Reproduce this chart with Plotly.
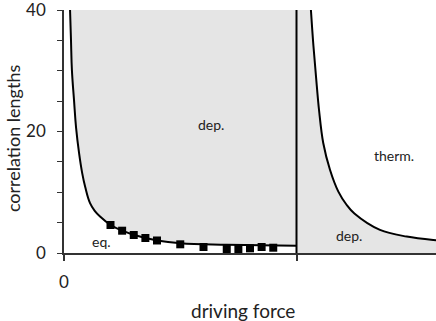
import plotly.graph_objects as go

# Left curve (equilibrium/depinning boundary)
left_x = [0.026, 0.030, 0.034, 0.043, 0.052, 0.065, 0.078, 0.091, 0.112, 0.133, 0.155, 0.201,
          0.251, 0.302, 0.401, 0.501, 0.70, 0.845, 1.0]
left_y = [40, 35.1, 30.1, 25.2, 20.6, 16.4, 13.2, 10.9, 8.2, 6.9, 6.0, 4.6,
          3.67, 2.96, 2.06, 1.6, 1.37, 1.27, 1.2]

# Right curve (depinning/thermal boundary)
right_x = [1.062, 1.072, 1.084, 1.097, 1.115, 1.144, 1.180, 1.216, 1.249,
           1.359, 1.474, 1.588, 1.603]
right_y = [40, 34.5, 29.0, 23.5, 18.1, 13.7, 10.1, 7.9, 6.5,
           3.8, 2.7, 2.14, 2.1]

# Measured points (square markers)
marker_x = [0.2, 0.25, 0.3, 0.35, 0.4, 0.5, 0.6, 0.7, 0.75, 0.8, 0.85, 0.9]
marker_y = [4.61, 3.67, 2.96, 2.47, 2.06, 1.43, 0.99, 0.66, 0.66, 0.77, 0.99, 0.87]

# Threshold force
threshold_x = [1.0, 1.0]
threshold_y = [0, 40]

y_tickvals = [0, 5, 10, 15, 20, 25, 30, 35, 40]
y_ticktext = ["0", "", "", "", "20", "", "", "", "40"]
x_tickvals = [0, 1]
x_ticktext = ["0", ""]

FILL = "#e5e5e5"
FONT = "Lato"
TXT = "#222"

fig = go.Figure()

# left shaded region (above left curve, up to threshold)
fig.add_trace(go.Scatter(
    x=left_x + [1.0, left_x[0]],
    y=left_y + [40, 40],
    fill="toself", fillcolor=FILL, mode="lines",
    line=dict(width=0, color=FILL), hoverinfo="skip", showlegend=False))

# right shaded region (under right curve)
fig.add_trace(go.Scatter(
    x=[1.0] + right_x + [right_x[-1], 1.0],
    y=[40] + right_y + [0, 0],
    fill="toself", fillcolor=FILL, mode="lines",
    line=dict(width=0, color=FILL), hoverinfo="skip", showlegend=False))

fig.add_trace(go.Scatter(
    x=left_x, y=left_y, mode="lines",
    line=dict(color="black", width=2, shape="spline", smoothing=1.2),
    showlegend=False))
fig.add_trace(go.Scatter(
    x=right_x, y=right_y, mode="lines",
    line=dict(color="black", width=2, shape="spline", smoothing=1.0),
    showlegend=False))
fig.add_trace(go.Scatter(
    x=threshold_x, y=threshold_y, mode="lines",
    line=dict(color="black", width=2), showlegend=False))
fig.add_trace(go.Scatter(
    x=marker_x, y=marker_y, mode="markers",
    marker=dict(symbol="square", size=8, color="black"),
    showlegend=False))

ann_font = dict(family=FONT, size=14, color=TXT)
fig.add_annotation(x=0.634, y=21.2, text="dep.", showarrow=False, font=ann_font)
fig.add_annotation(x=1.418, y=16.1, text="therm.", showarrow=False, font=ann_font)
fig.add_annotation(x=1.224, y=2.96, text="dep.", showarrow=False, font=ann_font)
fig.add_annotation(x=0.1625, y=1.86, text="eq.", showarrow=False, font=ann_font)

# axis titles
fig.add_annotation(xref="paper", yref="paper", x=0.48, y=-0.2346,
                   xanchor="center", yanchor="middle", showarrow=False,
                   text="driving force", font=dict(family=FONT, size=19, color=TXT))
fig.add_annotation(xref="paper", yref="paper", x=-0.137, y=0.473,
                   xanchor="center", yanchor="middle", showarrow=False, textangle=-90,
                   text="correlation lengths", font=dict(family=FONT, size=18, color=TXT))

fig.update_layout(
    width=436, height=321,
    margin=dict(l=64, r=0, t=10, b=68),
    paper_bgcolor="white", plot_bgcolor="white",
    font=dict(family=FONT, color=TXT),
    xaxis=dict(range=[0, 1.6], showline=True, linecolor="#333", linewidth=1.5,
               ticks="outside", ticklen=6, tickwidth=1.5, tickcolor="#333",
               tickvals=x_tickvals, ticktext=x_ticktext, ticklabelstandoff=7,
               ticklabeloverflow="allow",
               showgrid=False, zeroline=False,
               tickfont=dict(size=17, family=FONT, color=TXT)),
    yaxis=dict(range=[0, 40], showline=True, linecolor="#333", linewidth=1.5,
               ticks="outside", ticklen=5, tickwidth=1, tickcolor="#333",
               tickvals=y_tickvals, ticktext=y_ticktext, ticklabelstandoff=8,
               ticklabeloverflow="allow",
               showgrid=False, zeroline=False,
               tickfont=dict(size=17, family=FONT, color=TXT)),
)

fig.write_html("out.html", config={"displayModeBar": False},
               post_script="document.body.style.margin='0';document.body.style.padding='0';")
